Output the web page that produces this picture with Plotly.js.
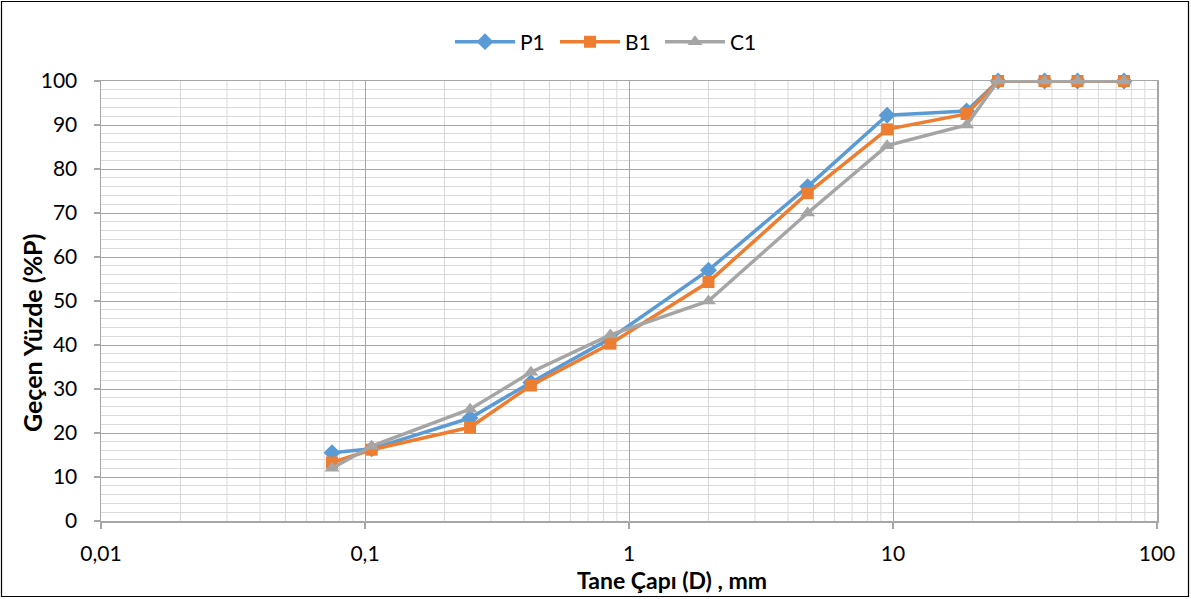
<!DOCTYPE html>
<html>
<head>
<meta charset="utf-8">
<script src="https://cdn.plot.ly/plotly-3.0.1.min.js"></script>
<style>html,body{margin:0;padding:0;background:#fff;}#chart{width:1191px;height:599px;}</style>
</head>
<body>
<div id="chart"></div>
<script>
const sieveSizes = [0.075, 0.106, 0.25, 0.425, 0.85, 2, 4.75, 9.5, 19, 25, 37.5, 50, 75];
const p1Values = [15.5, 16.4, 23.4, 31.5, 41.5, 57, 76, 92.2, 93.2, 100, 100, 100, 100];
const b1Values = [13.3, 16.2, 21.3, 30.8, 40.3, 54.3, 74.5, 89, 92.5, 100, 100, 100, 100];
const c1Values = [12, 17, 25.4, 33.8, 42.3, 50, 70, 85.3, 90, 100, 100, 100, 100];
const xTickVals = [0.01, 0.1, 1, 10, 100];
const xTickText = ["0,01", "0,1", "1", "10", "100"];
const seriesNames = ["P1", "B1", "C1"];

const FONT = "Lato, 'Open Sans', sans-serif";
const W = 1191, H = 599, L = 101, R = 1157, T = 81, B = 521;
const pw = R - L, ph = B - T;
const px = x => (x - L) / pw;
const py = y => (B - y) / ph;

const minorX = [];
for (let d = -2; d < 2; d++) for (let k = 2; k <= 9; k++) minorX.push(k * Math.pow(10, d));

const traces = [
  {x: sieveSizes, y: p1Values, name: seriesNames[0], mode: 'lines+markers', cliponaxis: false,
   line: {color: '#5b9bd5', width: 3.5}, marker: {symbol: 'diamond', size: 13, color: '#5b9bd5'}},
  {x: sieveSizes, y: b1Values, name: seriesNames[1], mode: 'lines+markers', cliponaxis: false,
   line: {color: '#ed7d31', width: 3.5}, marker: {symbol: 'square', size: 12, color: '#ed7d31'}},
  {x: sieveSizes, y: c1Values, name: seriesNames[2], mode: 'lines+markers', cliponaxis: false,
   line: {color: '#a5a5a5', width: 3.5}, marker: {symbol: 'triangle-up', size: 13, color: '#a5a5a5'}}
];

const layout = {
  width: W, height: H,
  margin: {l: L, r: W - R, t: T, b: H - B, pad: 0},
  paper_bgcolor: '#fff', plot_bgcolor: '#fff',
  font: {family: FONT, size: 21, color: '#000'},
  showlegend: true,
  legend: {orientation: 'h', x: px(450), xanchor: 'left', y: py(42), yanchor: 'middle',
           font: {family: FONT, size: 21, color: '#000'}, itemwidth: 60,
           entrywidth: 30, entrywidthmode: 'pixels', traceorder: 'normal'},
  xaxis: {
    type: 'log', range: [-2, 2], tickvals: xTickVals, ticktext: xTickText,
    showgrid: true, gridcolor: '#a6a6a6', gridwidth: 1,
    showline: true, linecolor: '#a6a6a6', linewidth: 1.5, mirror: true,
    ticks: 'outside', ticklen: 6, tickcolor: '#a6a6a6', tickwidth: 1.5,
    ticklabelstandoff: 7,
    tickfont: {family: FONT, size: 21, color: '#000'},
    zeroline: false, fixedrange: true
  },
  yaxis: {
    range: [0, 100], dtick: 10, tick0: 0,
    showgrid: true, gridcolor: '#a6a6a6', gridwidth: 1,
    minor: {dtick: 2, showgrid: true, gridcolor: '#d9d9d9', gridwidth: 1, ticks: ''},
    showline: true, linecolor: '#a6a6a6', linewidth: 1.5, mirror: true,
    ticks: 'outside', ticklen: 6, tickcolor: '#a6a6a6', tickwidth: 1.5,
    ticklabelstandoff: 12,
    tickfont: {family: FONT, size: 21, color: '#000'},
    zeroline: false, fixedrange: true
  },
  shapes: [],
  annotations: [
    {text: '<b>Tane Çapı (D) , mm</b>', xref: 'paper', yref: 'paper', x: px(672), y: py(580),
     xanchor: 'center', yanchor: 'middle', showarrow: false, font: {family: FONT, size: 23, color: '#000'}},
    {text: '<b>Geçen Yüzde (%P)</b>', xref: 'paper', yref: 'paper', x: px(32), y: py(333),
     xanchor: 'center', yanchor: 'middle', textangle: -90, showarrow: false, font: {family: FONT, size: 25, color: '#000'}}
  ]
};

minorX.forEach(v => {
  layout.shapes.push({type: 'line', xref: 'x', yref: 'paper', x0: v, x1: v, y0: 0, y1: 1,
    line: {color: '#d9d9d9', width: 1}, layer: 'below'});
});
layout.shapes.push({type: 'rect', xref: 'paper', yref: 'paper',
  x0: px(1.5), x1: px(1188.5), y0: py(596.5), y1: py(1.5),
  line: {color: '#000', width: 1.2}, fillcolor: 'rgba(0,0,0,0)', layer: 'above'});

Plotly.newPlot('chart', traces, layout, {displayModeBar: false, staticPlot: true});
</script>
</body>
</html>
